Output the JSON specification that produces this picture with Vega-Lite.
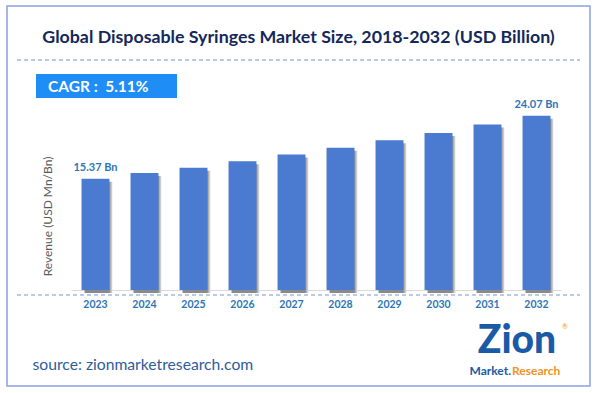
{
  "$schema": "https://vega.github.io/schema/vega-lite/v6.json",
  "width": 583,
  "height": 380,
  "padding": {"left": 7, "top": 6, "right": 7, "bottom": 7},
  "autosize": {"type": "none"},
  "background": "white",
  "config": {
    "view": {"stroke": "#8d9fe3", "strokeWidth": 1.5},
    "font": "Lato"
  },
  "title": {
    "text": "Global Disposable Syringes Market Size, 2018-2032 (USD Billion)",
    "anchor": "middle",
    "frame": "group",
    "offset": -55,
    "baseline": "alphabetic",
    "font": "Lato",
    "fontSize": 17.8,
    "fontWeight": "bold",
    "color": "#14285a"
  },
  "layer": [
    {
      "data": {
        "values": [
          {"year": "2023", "value": 15.37, "label": "15.37 Bn"},
          {"year": "2024", "value": 16.15, "label": ""},
          {"year": "2025", "value": 16.9, "label": ""},
          {"year": "2026", "value": 17.8, "label": ""},
          {"year": "2027", "value": 18.7, "label": ""},
          {"year": "2028", "value": 19.65, "label": ""},
          {"year": "2029", "value": 20.7, "label": ""},
          {"year": "2030", "value": 21.7, "label": ""},
          {"year": "2031", "value": 22.85, "label": ""},
          {"year": "2032", "value": 24.07, "label": "24.07 Bn"}
        ]
      },
      "encoding": {
        "x": {
          "field": "year",
          "type": "ordinal",
          "title": "source: zionmarketresearch.com",
          "scale": {"range": [64, 554], "paddingInner": 0.43, "paddingOuter": 0.215},
          "axis": {
            "domain": true,
            "domainColor": "#d9d9d9",
            "domainWidth": 1,
            "ticks": false,
            "grid": false,
            "labelAngle": 0,
            "labelFont": "Lato",
            "labelFontSize": 10.5,
            "labelFontWeight": "bold",
            "labelColor": "#2e75b6",
            "labelPadding": 9,
            "offset": -96,
            "titleX": 25,
            "titleY": 74,
            "titleAlign": "left",
            "titleBaseline": "middle",
            "titleFont": "Lato",
            "titleFontSize": 15.7,
            "titleFontWeight": "normal",
            "titleColor": "#2e5c9a"
          }
        },
        "y": {
          "field": "value",
          "type": "quantitative",
          "title": "Revenue (USD Mn/Bn)",
          "scale": {"domain": [0, 25], "range": [284, 103], "nice": false, "zero": true},
          "axis": {
            "domain": false,
            "ticks": false,
            "labels": false,
            "grid": false,
            "titleX": 40,
            "titleY": 210,
            "titleAngle": -90,
            "titleAlign": "center",
            "titleBaseline": "middle",
            "titleFont": "Lato",
            "titleFontSize": 12,
            "titleFontWeight": "normal",
            "titleColor": "#595959"
          }
        }
      },
      "layer": [
        {
          "mark": {
            "type": "bar",
            "xOffset": 3,
            "yOffset": 3,
            "color": {
              "gradient": "linear",
              "x1": 0, "x2": 1, "y1": 0, "y2": 0,
              "stops": [
                {"offset": 0, "color": "#8a8a8a"},
                {"offset": 0.88, "color": "#8a8a8a"},
                {"offset": 1, "color": "#e6e6e6"}
              ]
            }
          }
        },
        {
          "mark": {"type": "bar", "color": "#4a7bd0"}
        },
        {
          "mark": {
            "type": "text",
            "dy": -8,
            "baseline": "alphabetic",
            "align": "center",
            "font": "Lato",
            "fontSize": 11,
            "fontWeight": "bold",
            "color": "#2e75b6"
          },
          "encoding": {"text": {"field": "label"}}
        }
      ]
    },
    {
      "data": {"values": [{}]},
      "mark": {"type": "rule", "color": "#7b93d3", "strokeDash": [4, 3], "strokeWidth": 1},
      "encoding": {"x": {"value": 10}, "x2": {"value": 573}, "y": {"value": 54}}
    },
    {
      "data": {"values": [{}]},
      "mark": {"type": "rule", "color": "#7b93d3", "strokeDash": [4, 3], "strokeWidth": 1},
      "encoding": {"x": {"value": 10}, "x2": {"value": 573}, "y": {"value": 289}}
    },
    {
      "data": {"values": [{}]},
      "mark": {"type": "rect", "color": "#1e8df5"},
      "encoding": {"x": {"value": 29}, "x2": {"value": 170}, "y": {"value": 68}, "y2": {"value": 92}}
    },
    {
      "data": {"values": [{}]},
      "mark": {"type": "text", "align": "left", "baseline": "alphabetic", "text": "CAGR :\u00a0\u00a05.11%", "font": "Lato", "fontSize": 15.5, "fontWeight": "bold", "color": "white"},
      "encoding": {"x": {"value": 41}, "y": {"value": 86}}
    },
    {
      "data": {"values": [{}]},
      "mark": {"type": "text", "align": "center", "baseline": "alphabetic", "text": "Zion", "font": "Lato", "fontSize": 39, "fontWeight": 900, "color": "#1a5aa6"},
      "encoding": {"x": {"value": 510}, "y": {"value": 347}}
    },
    {
      "data": {"values": [{}]},
      "mark": {"type": "text", "align": "right", "baseline": "alphabetic", "text": "Market.", "font": "Lato", "fontSize": 12, "fontWeight": "bold", "color": "#1a5aa6"},
      "encoding": {"x": {"value": 504}, "y": {"value": 369}}
    },
    {
      "data": {"values": [{}]},
      "mark": {"type": "text", "align": "left", "baseline": "alphabetic", "text": "Research", "font": "Lato", "fontSize": 12, "fontWeight": "bold", "color": "#f39321"},
      "encoding": {"x": {"value": 505}, "y": {"value": 369}}
    },
    {
      "data": {"values": [{}]},
      "mark": {"type": "text", "align": "center", "baseline": "middle", "text": "®", "font": "Lato", "fontSize": 7, "color": "#f39321"},
      "encoding": {"x": {"value": 558}, "y": {"value": 321}}
    }
  ]
}
